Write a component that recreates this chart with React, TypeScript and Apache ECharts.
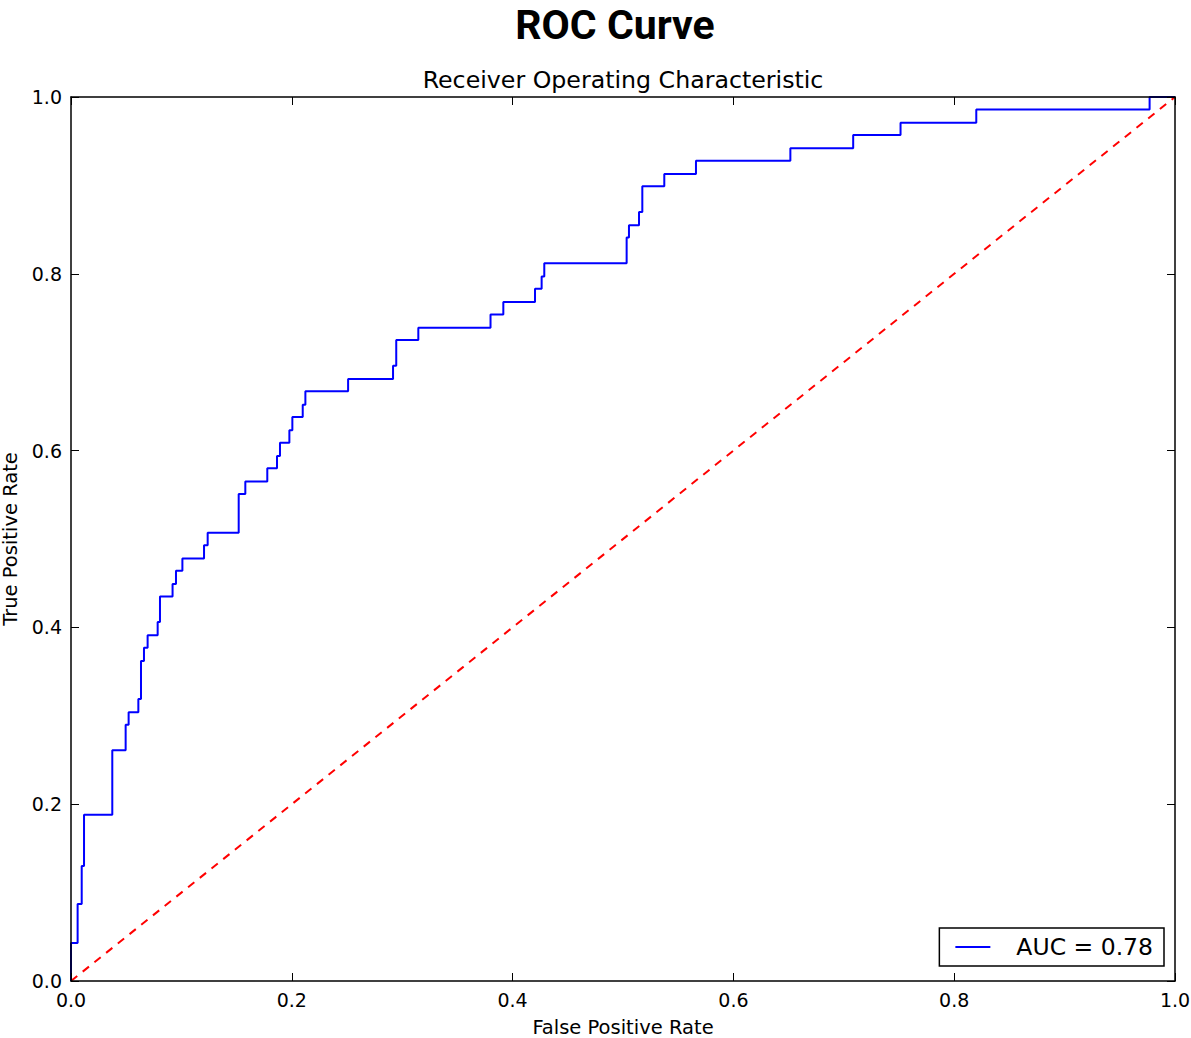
import React, { useEffect, useRef } from "react";
import * as echarts from "echarts";

// ROC curve corner points (false positive rate, true positive rate)
const fpr = [
  0, 0, 0.006, 0.006, 0.0097, 0.0097, 0.0118, 0.0118, 0.0374, 0.0374,
  0.0495, 0.0495, 0.0522, 0.0522, 0.061, 0.061, 0.0634, 0.0634, 0.0661, 0.0661,
  0.0694, 0.0694, 0.0785, 0.0785, 0.0806, 0.0806, 0.092, 0.092, 0.0951, 0.0951,
  0.1009, 0.1009, 0.1205, 0.1205, 0.1238, 0.1238, 0.1519, 0.1519, 0.1579, 0.1579,
  0.1778, 0.1778, 0.1866, 0.1866, 0.1893, 0.1893, 0.1978, 0.1978, 0.2005, 0.2005,
  0.2099, 0.2099, 0.2123, 0.2123, 0.251, 0.251, 0.2917, 0.2917, 0.2946, 0.2946,
  0.3146, 0.3146, 0.38, 0.38, 0.3916, 0.3916, 0.4203, 0.4203, 0.4263, 0.4263,
  0.4287, 0.4287, 0.5033, 0.5033, 0.5054, 0.5054, 0.5145, 0.5145, 0.5175, 0.5175,
  0.5374, 0.5374, 0.5661, 0.5661, 0.6516, 0.6516, 0.7085, 0.7085, 0.7514, 0.7514,
  0.82, 0.82, 0.977, 0.977, 1.0,
];
const tpr = [
  0, 0.043, 0.043, 0.087, 0.087, 0.13, 0.13, 0.188, 0.188, 0.261,
  0.261, 0.29, 0.29, 0.304, 0.304, 0.319, 0.319, 0.362, 0.362, 0.377,
  0.377, 0.391, 0.391, 0.406, 0.406, 0.435, 0.435, 0.449, 0.449, 0.464,
  0.464, 0.478, 0.478, 0.493, 0.493, 0.507, 0.507, 0.551, 0.551, 0.565,
  0.565, 0.58, 0.58, 0.594, 0.594, 0.609, 0.609, 0.623, 0.623, 0.638,
  0.638, 0.652, 0.652, 0.667, 0.667, 0.681, 0.681, 0.696, 0.696, 0.725,
  0.725, 0.739, 0.739, 0.754, 0.754, 0.768, 0.768, 0.783, 0.783, 0.797,
  0.797, 0.812, 0.812, 0.841, 0.841, 0.855, 0.855, 0.87, 0.87, 0.899,
  0.899, 0.913, 0.913, 0.928, 0.928, 0.942, 0.942, 0.957, 0.957, 0.971,
  0.971, 0.986, 0.986, 1.0, 1.0,
];
const chanceX = [0, 1];
const chanceY = [0, 1];
const aucLabel = "AUC = 0.78";
const axisTicks = [0, 0.2, 0.4, 0.6, 0.8, 1.0];

const FONT = "'DejaVu Sans', sans-serif";

function frameAxis(position: string, extra: any = {}) {
  return {
    type: "value",
    min: axisTicks[0],
    max: axisTicks[axisTicks.length - 1],
    interval: 0.2,
    position,
    z: 10,
    axisLine: { show: true, onZero: false, lineStyle: { color: "#000", width: 1.5 } },
    axisTick: { show: true, inside: true, length: 8, lineStyle: { color: "#000", width: 1 } },
    splitLine: { show: false },
    axisLabel: { show: false },
    ...extra,
  };
}

export default function App() {
  const ref = useRef<HTMLDivElement>(null);

  useEffect(() => {
    if (!ref.current) return;
    const chart = echarts.init(ref.current, null, { renderer: "svg" });
    const roc = fpr.map((x, i) => [x, tpr[i]]);
    const chance = chanceX.map((x, i) => [x, chanceY[i]]);
    const tickLabel = {
      show: true,
      color: "#000",
      fontFamily: FONT,
      fontSize: 19,
      margin: 9,
      formatter: (v: number) => v.toFixed(1),
    };
    const nameStyle = { color: "#000", fontFamily: FONT, fontSize: 19.5 };

    chart.setOption({
      animation: false,
      backgroundColor: "#fff",
      grid: { left: 71, right: 16, top: 97, bottom: 57, outerBoundsMode: "none" },
      graphic: [
        {
          type: "text",
          x: 615,
          y: 25,
          style: {
            text: "ROC Curve",
            font: "bold 41px Roboto, sans-serif",
            lineHeight: 41,
            fill: "#000",
            align: "center",
            verticalAlign: "middle",
          },
        },
        {
          type: "text",
          x: 623,
          y: 80,
          style: {
            text: "Receiver Operating Characteristic",
            font: `23.7px ${FONT}`,
            fill: "#000",
            align: "center",
            verticalAlign: "middle",
          },
        },
      ],
      legend: {
        data: [aucLabel],
        right: 27,
        top: 928,
        orient: "horizontal",
        icon: "rect",
        backgroundColor: "#fff",
        borderColor: "#000",
        borderWidth: 1.5,
        borderRadius: 0,
        padding: [7, 11, 7, 16],
        itemWidth: 35,
        itemHeight: 2,
        textStyle: { color: "#000", fontFamily: FONT, fontSize: 23.5, padding: [0, 0, 0, 21] },
      },
      xAxis: [
        frameAxis("bottom", {
          name: "False Positive Rate",
          nameLocation: "middle",
          nameGap: 36,
          nameTextStyle: nameStyle,
          axisLabel: tickLabel,
        }),
        frameAxis("top"),
      ],
      yAxis: [
        frameAxis("left", {
          name: "True Positive Rate",
          nameLocation: "middle",
          nameGap: 49,
          nameTextStyle: nameStyle,
          axisLabel: tickLabel,
        }),
        frameAxis("right"),
      ],
      series: [
        {
          name: aucLabel,
          type: "line",
          data: roc,
          symbol: "none",
          z: 3,
          color: "#0000ff",
          lineStyle: { color: "#0000ff", width: 2 },
        },
        {
          name: "chance",
          type: "line",
          data: chance,
          symbol: "none",
          z: 2,
          color: "#ff0000",
          lineStyle: { color: "#ff0000", width: 2, type: [8, 7] },
        },
      ],
    });
    return () => chart.dispose();
  }, []);

  return (
    <div
      ref={ref}
      style={{ position: "absolute", left: 0, top: 0, width: 1191, height: 1038 }}
    />
  );
}
